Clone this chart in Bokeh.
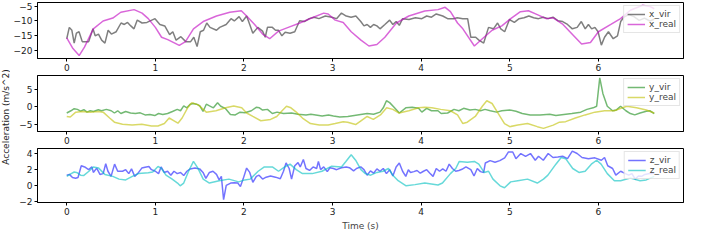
import math
from bokeh.plotting import figure
from bokeh.models import Range1d, FixedTicker, Label
from bokeh.layouts import row, column
from bokeh.embed import file_html
from bokeh.resources import INLINE

# ---------------- data ----------------
t_x_vir = [0.000, 0.029, 0.058, 0.084, 0.109, 0.139, 0.175, 0.248, 0.296, 0.321, 0.358, 0.394, 0.431, 0.467,
           0.504, 0.558, 0.613, 0.650, 0.686, 0.723, 0.759, 0.796, 0.850, 0.905, 0.960, 0.996, 1.051, 1.106,
           1.161, 1.197, 1.234, 1.288, 1.343, 1.398, 1.434, 1.471, 1.507, 1.544, 1.580, 1.617, 1.690, 1.726,
           1.799, 1.854, 1.891, 1.945, 1.982, 2.030, 2.065, 2.100, 2.156, 2.210, 2.240, 2.265, 2.320, 2.356,
           2.390, 2.428, 2.465, 2.520, 2.573, 2.628, 2.682, 2.737, 2.791, 2.846, 2.918, 2.991, 3.045, 3.100,
           3.154, 3.209, 3.263, 3.318, 3.354, 3.390, 3.427, 3.463, 3.500, 3.535, 3.590, 3.644, 3.680, 3.717,
           3.753, 3.790, 3.862, 3.935, 4.007, 4.062, 4.116, 4.170, 4.243, 4.298, 4.370, 4.406, 4.469, 4.524,
           4.560, 4.615, 4.651, 4.705, 4.760, 4.815, 4.862, 4.898, 4.942, 4.996, 5.051, 5.105, 5.160, 5.215,
           5.269, 5.324, 5.378, 5.433, 5.487, 5.542, 5.596, 5.651, 5.705, 5.760, 5.807, 5.851, 5.887, 5.924,
           5.960, 5.996, 6.033, 6.069, 6.113, 6.167, 6.215, 6.251, 6.287, 6.342, 6.400, 6.460, 6.520, 6.580,
           6.630]
x_vir = [-16.1, -12.2, -13.2, -17.6, -14.2, -13.7, -17.1, -17.1, -12.7, -15.1, -14.5, -16.6, -17.6, -13.2,
         -14.5, -13.7, -10.7, -11.2, -10.5, -11.7, -12.7, -9.7, -10.7, -10.5, -9.7, -9.2, -11.2, -11.7,
         -14.7, -13.7, -16.6, -15.4, -17.1, -17.1, -15.6, -18.8, -13.7, -13.2, -10.7, -12.2, -13.2, -12.2,
         -11.2, -9.2, -10.0, -8.5, -10.2, -8.3, -11.2, -14.2, -12.2, -13.5, -15.6, -12.2, -12.2, -13.2,
         -13.2, -15.1, -13.9, -14.2, -13.7, -9.9, -10.2, -9.2, -8.7, -9.2, -8.3, -8.7, -9.2, -7.3,
         -8.3, -8.7, -8.3, -10.2, -11.7, -11.2, -12.2, -11.2, -11.7, -12.7, -11.2, -9.7, -11.2, -10.2,
         -11.5, -9.2, -9.5, -8.9, -9.2, -8.3, -8.7, -7.6, -8.3, -9.2, -9.2, -8.9, -9.2, -9.2,
         -15.6, -15.6, -16.6, -17.6, -12.2, -12.7, -10.7, -12.7, -13.7, -9.5, -10.5, -9.2, -8.9, -8.3,
         -8.9, -9.2, -8.7, -9.2, -8.7, -9.9, -10.2, -11.2, -12.7, -12.2, -10.2, -12.7, -11.2, -12.7,
         -12.2, -13.7, -18.3, -15.6, -13.7, -16.1, -15.1, -10.2, -8.7, -7.8, -8.5, -9.8, -9.0, -10.0,
         -9.4]

t_x_real = [0.00, 0.07, 0.14, 0.20, 0.30, 0.41, 0.52, 0.61, 0.76, 0.85, 0.92, 1.00, 1.07, 1.14, 1.27, 1.34,
            1.43, 1.54, 1.69, 1.84, 1.97, 2.03, 2.12, 2.21, 2.29, 2.39, 2.50, 2.63, 2.77, 2.90, 2.95, 3.03,
            3.12, 3.21, 3.32, 3.41, 3.50, 3.59, 3.72, 3.86, 4.04, 4.19, 4.27, 4.33, 4.41, 4.47, 4.60, 4.69,
            4.80, 4.91, 5.01, 5.12, 5.21, 5.31, 5.41, 5.49, 5.60, 5.71, 5.81, 5.91, 6.00, 6.14, 6.25, 6.36,
            6.50, 6.58, 6.63]
x_real = [-15.8, -19.5, -21.9, -19.0, -12.7, -10.0, -9.0, -7.0, -6.1, -7.3, -9.2, -12.2, -15.6, -16.4, -18.4, -17.1,
          -12.7, -10.2, -8.3, -7.0, -6.5, -8.3, -11.2, -14.5, -16.1, -13.5, -12.2, -10.7, -8.9, -7.3, -7.6, -9.7,
          -10.5, -13.7, -16.6, -18.6, -18.1, -15.6, -10.7, -8.3, -6.6, -6.1, -5.3, -6.8, -10.7, -12.7, -18.6, -16.1,
          -13.2, -11.7, -9.2, -6.8, -6.5, -7.8, -9.2, -8.9, -11.2, -14.7, -17.9, -17.4, -13.7, -11.2, -9.2, -6.3,
          -4.6, -5.0, -5.8]

t_y_vir = [0.000, 0.047, 0.084, 0.120, 0.156, 0.193, 0.229, 0.265, 0.302, 0.356, 0.393, 0.447, 0.502, 0.538,
           0.575, 0.611, 0.665, 0.720, 0.775, 0.829, 0.884, 0.938, 0.993, 1.036, 1.084, 1.138, 1.193, 1.247,
           1.284, 1.320, 1.356, 1.393, 1.429, 1.465, 1.502, 1.538, 1.575, 1.611, 1.655, 1.702, 1.738, 1.793,
           1.847, 1.902, 1.956, 2.011, 2.083, 2.138, 2.174, 2.210, 2.265, 2.320, 2.374, 2.446, 2.537, 2.610,
           2.700, 2.755, 2.810, 2.882, 2.955, 3.009, 3.082, 3.172, 3.281, 3.390, 3.463, 3.535, 3.572, 3.608,
           3.644, 3.699, 3.753, 3.826, 3.898, 3.971, 4.007, 4.062, 4.116, 4.189, 4.225, 4.298, 4.370, 4.425,
           4.479, 4.550, 4.610, 4.670, 4.720, 4.780, 4.850, 4.910, 5.000, 5.070, 5.140, 5.230, 5.340, 5.450,
           5.520, 5.610, 5.700, 5.800, 5.870, 5.940, 5.980, 6.015, 6.050, 6.100, 6.160, 6.200, 6.250, 6.310,
           6.360, 6.410, 6.470, 6.540, 6.580, 6.630]
y_vir = [-1.75, -1.1, -0.5, -0.7, -1.2, -0.8, -1.5, -1.1, -1.3, -0.8, -1.1, -0.7, -1.1, -1.75,
         -1.1, -1.9, -1.3, -1.75, -1.9, -1.7, -2.3, -2.2, -2.5, -1.9, -2.2, -1.9, -1.3, -0.7,
         -1.1, 0.3, -0.25, 0.8, 1.0, 0.8, 0.3, -1.3, 0.8, 0.3, -0.25, 1.2, 0.2, -0.5,
         -2.2, -2.3, -1.5, -1.7, -1.1, -0.1, -0.25, -0.9, -0.7, -1.9, -1.5, -1.9, -1.75, -2.1,
         -2.3, -2.1, -2.3, -2.6, -2.3, -2.6, -2.9, -2.75, -2.3, -1.9, -2.1, -1.5, -0.25, 1.8,
         1.25, -0.25, -1.75, -0.25, -0.1, -0.4, -1.5, -0.4, -1.1, -1.1, -1.9, -1.75, -0.7, -1.1,
         -0.4, -0.9, -0.7, -1.1, -0.7, -1.1, -1.5, -1.1, -0.9, -1.25, -1.9, -2.3, -2.3, -2.1,
         -2.5, -2.2, -1.9, -1.5, -0.7, -0.25, 0.2, 8.4, 3.9, 0.2, -1.1, -0.9, 0.2, -1.1,
         -1.9, -2.3, -1.75, -1.25, -1.1, -1.9]

t_y_real = [0.000, 0.040, 0.102, 0.175, 0.265, 0.356, 0.411, 0.484, 0.538, 0.629, 0.738, 0.847, 0.956, 1.029,
            1.102, 1.156, 1.211, 1.255, 1.302, 1.364, 1.411, 1.484, 1.575, 1.684, 1.793, 1.884, 1.975, 2.030,
            2.100, 2.190, 2.300, 2.370, 2.430, 2.480, 2.530, 2.590, 2.660, 2.750, 2.850, 2.950, 3.030, 3.120,
            3.170, 3.260, 3.320, 3.390, 3.460, 3.540, 3.610, 3.680, 3.750, 3.860, 3.970, 4.040, 4.120, 4.220,
            4.330, 4.410, 4.470, 4.520, 4.610, 4.690, 4.740, 4.800, 4.870, 4.940, 5.000, 5.090, 5.200, 5.310,
            5.380, 5.490, 5.560, 5.630, 5.740, 5.850, 5.960, 6.070, 6.180, 6.270, 6.320, 6.430, 6.540, 6.630]
y_real = [-2.75, -2.9, -1.5, -1.3, -1.5, -1.3, -1.5, -3.2, -4.4, -5.0, -5.25, -5.0, -5.5, -5.5,
          -4.8, -3.2, -4.0, -4.7, -3.2, -0.25, 1.2, 0.6, -1.5, -1.1, -0.25, 0.3, -0.25, -1.75,
          -2.75, -4.0, -3.6, -2.75, -1.1, 0.2, -0.25, -1.5, -3.2, -4.8, -5.25, -5.25, -4.8, -4.25,
          -4.4, -5.1, -4.0, -2.75, -3.6, -2.3, -0.25, -0.7, -1.75, -1.1, -0.25, -0.1, -0.25, -0.7,
          -1.1, -2.3, -4.8, -4.4, -2.75, 0.2, 1.8, 1.0, -1.9, -4.8, -5.7, -5.25, -4.8, -5.7,
          -6.2, -5.25, -4.4, -4.25, -3.2, -2.3, -1.5, -1.1, -1.1, -0.25, 0.2, -0.25, -0.9, -1.75]

t_z_vir = [0.000, 0.030, 0.065, 0.100, 0.127, 0.164, 0.210, 0.247, 0.284, 0.300, 0.338, 0.375, 0.411, 0.440,
           0.465, 0.500, 0.540, 0.575, 0.630, 0.665, 0.700, 0.731, 0.767, 0.811, 0.847, 0.884, 0.927, 0.956,
           1.000, 1.036, 1.065, 1.100, 1.138, 1.175, 1.210, 1.247, 1.284, 1.320, 1.356, 1.393, 1.447, 1.500,
           1.538, 1.570, 1.610, 1.650, 1.690, 1.720, 1.745, 1.770, 1.800, 1.850, 1.890, 1.930, 1.960, 1.990,
           2.030, 2.065, 2.100, 2.140, 2.170, 2.210, 2.250, 2.300, 2.356, 2.410, 2.446, 2.475, 2.510, 2.537,
           2.573, 2.610, 2.635, 2.670, 2.700, 2.740, 2.780, 2.820, 2.840, 2.865, 2.900, 2.940, 2.970, 3.010,
           3.045, 3.100, 3.154, 3.190, 3.237, 3.270, 3.318, 3.354, 3.390, 3.427, 3.463, 3.500, 3.535, 3.572,
           3.608, 3.644, 3.680, 3.717, 3.753, 3.790, 3.826, 3.855, 3.880, 3.917, 3.953, 3.990, 4.026, 4.062,
           4.098, 4.134, 4.170, 4.207, 4.243, 4.280, 4.316, 4.352, 4.389, 4.425, 4.460, 4.505, 4.560, 4.596,
           4.633, 4.669, 4.705, 4.724, 4.778, 4.833, 4.887, 4.942, 4.985, 5.033, 5.069, 5.124, 5.178, 5.233,
           5.287, 5.324, 5.378, 5.433, 5.487, 5.542, 5.596, 5.651, 5.705, 5.760, 5.815, 5.887, 5.960, 6.033,
           6.069, 6.105, 6.160, 6.196, 6.251, 6.305, 6.342, 6.378, 6.415, 6.451, 6.487, 6.524, 6.578, 6.630]
z_vir = [1.3, 1.4, 1.0, 0.9, 1.0, 2.5, 2.3, 2.0, 2.35, 1.65, 2.2, 1.4, 1.5, 2.75,
         1.8, 1.15, 2.7, 1.8, 1.8, 2.0, 1.5, 2.1, 1.15, 1.65, 2.2, 2.3, 2.4, 2.0,
         1.8, 1.5, 2.35, 1.65, 1.8, 1.3, 1.8, 1.5, 1.65, 1.25, 1.8, 2.1, 2.2, 2.1,
         1.65, 0.9, 1.65, 1.8, 1.4, 0.7, 1.15, -1.8, 0.0, 0.3, 0.35, 0.3, -0.15, 0.8,
         2.2, 1.65, 0.4, 1.15, 1.3, 0.8, 1.05, 1.2, 1.05, 0.85, 1.8, 2.85, 2.15, 0.8,
         2.5, 2.9, 2.35, 3.3, 2.15, 1.9, 2.35, 2.15, 3.05, 2.0, 2.35, 1.75, 2.25, 2.15,
         2.0, 2.25, 2.35, 2.25, 1.85, 2.15, 2.35, 2.0, 1.3, 1.85, 1.55, 2.1, 1.8, 2.15,
         1.5, 2.0, 1.2, 2.35, 2.85, 1.8, 1.15, 2.0, 1.65, 1.75, 1.9, 1.55, 1.8, 2.0,
         1.55, 1.15, 2.15, 1.8, 2.1, 1.8, 2.7, 2.15, 1.8, 1.9, 2.05, 2.35, 2.0, 1.2,
         2.15, 1.75, 1.65, 2.85, 3.15, 2.95, 3.15, 3.5, 4.25, 4.25, 3.4, 4.05, 3.7, 4.05,
         3.2, 3.7, 3.2, 4.05, 3.55, 3.6, 3.7, 3.4, 4.35, 4.05, 3.55, 3.4, 3.5, 3.2,
         3.55, 2.5, 2.15, 1.3, 1.8, 1.5, 1.3, 1.5, 0.8, 1.2, 1.15, 1.4, 1.5, 1.5]

t_z_real = [0.000, 0.050, 0.084, 0.120, 0.156, 0.190, 0.250, 0.300, 0.360, 0.430, 0.520, 0.590, 0.665, 0.740,
            0.810, 0.920, 0.970, 1.030, 1.065, 1.120, 1.190, 1.250, 1.280, 1.320, 1.375, 1.430, 1.480, 1.540,
            1.610, 1.720, 1.830, 1.940, 2.010, 2.070, 2.160, 2.230, 2.320, 2.390, 2.460, 2.520, 2.590, 2.660,
            2.770, 2.880, 2.990, 3.100, 3.150, 3.210, 3.260, 3.320, 3.370, 3.430, 3.500, 3.570, 3.630, 3.680,
            3.740, 3.830, 3.930, 4.040, 4.190, 4.240, 4.330, 4.390, 4.430, 4.520, 4.600, 4.650, 4.710, 4.760,
            4.810, 4.890, 4.940, 5.010, 5.090, 5.200, 5.310, 5.380, 5.430, 5.520, 5.580, 5.630, 5.710, 5.780,
            5.850, 5.920, 5.980, 6.030, 6.100, 6.180, 6.250, 6.360, 6.470, 6.540, 6.630]
z_real = [1.15, 1.5, 1.7, 1.6, 1.3, 1.25, 1.8, 2.35, 2.2, 1.4, 1.15, 0.8, 0.7, 1.15,
          1.5, 1.6, 1.7, 2.4, 2.2, 1.3, 0.8, 0.3, -0.05, 0.3, 1.8, 3.05, 2.2, 0.8,
          0.3, 0.6, 0.8, 0.45, 0.7, 0.8, 1.8, 2.35, 2.35, 1.8, 2.35, 2.7, 2.0, 1.5,
          1.5, 1.8, 2.45, 2.35, 3.05, 3.9, 3.2, 2.0, 1.5, 1.3, 1.65, 1.8, 2.15, 1.3,
          0.6, -0.05, 0.1, 0.3, 0.05, 0.3, 1.5, 2.15, 3.05, 2.95, 3.05, 2.7, 1.65, 1.8,
          0.8, -0.05, -0.3, 0.45, 0.6, 0.8, 0.3, 0.8, 1.3, 2.7, 3.55, 3.4, 2.15, 1.65,
          1.8, 2.7, 3.2, 2.7, 1.5, 0.6, 0.6, 0.95, 0.6, 0.7, 1.15]

x_ticks = [0, 1, 2, 3, 4, 5, 6]
y_ticks_x = [-20, -15, -10, -5]
y_ticks_y = [-5, 0, 5]
y_ticks_z = [-2, 0, 2, 4]

FONT = "DejaVu Sans"
FIG_W = 676
STRIP_W = 10
TOTAL_H = 233


def minus_labels(ticks):
    return {t: (("\u2212" + str(abs(t))) if t < 0 else str(t)) for t in ticks}


def make_fig(height, yr, yticks, top, bottom, xlabel=None):
    p = figure(width=FIG_W, height=height, x_range=Range1d(-0.33, 6.96), y_range=Range1d(*yr),
               output_backend="svg", toolbar_location=None,
               min_border_left=22, min_border_right=3, min_border_top=top, min_border_bottom=bottom)
    p.xaxis.ticker = FixedTicker(ticks=x_ticks)
    p.yaxis.ticker = FixedTicker(ticks=yticks)
    p.yaxis.major_label_overrides = minus_labels(yticks)
    p.xgrid.visible = False
    p.ygrid.visible = False
    p.axis.minor_tick_line_color = None
    p.axis.major_tick_out = 3
    p.axis.major_tick_in = 0
    p.axis.major_label_standoff = 2
    p.axis.major_label_text_font_size = "9px"
    p.axis.major_label_text_font = FONT
    p.axis.major_label_text_color = "#222222"
    p.axis.axis_line_color = "black"
    p.axis.major_tick_line_color = "black"
    p.outline_line_color = "black"
    p.outline_line_alpha = 1.0
    if xlabel:
        p.xaxis.axis_label = xlabel
        p.xaxis.axis_label_text_font_size = "9px"
        p.xaxis.axis_label_text_font = FONT
        p.xaxis.axis_label_text_font_style = "normal"
        p.xaxis.axis_label_standoff = 3
    return p


def style_legend(p):
    lg = p.legend[0]
    lg.location = "top_right"
    lg.margin = 3
    lg.padding = 3
    lg.spacing = 0
    lg.label_text_font_size = "9px"
    lg.label_text_font = FONT
    lg.label_height = 9
    lg.glyph_height = 10
    lg.glyph_width = 18
    lg.label_standoff = 4
    lg.border_line_color = "#cccccc"
    lg.background_fill_alpha = 0.8


p1 = make_fig(74, (-22.9, -3.65), y_ticks_x, 2, 16)
p1.line(t_x_vir, x_vir, color="black", alpha=0.5, line_width=1.5, legend_label="x_vir")
p1.line(t_x_real, x_real, color="#bf00bf", alpha=0.6, line_width=1.5, legend_label="x_real")
style_legend(p1)

p2 = make_fig(73, (-7.1, 9.1), y_ticks_y, 1, 16)
p2.line(t_y_vir, y_vir, color="#008000", alpha=0.55, line_width=1.5, legend_label="y_vir")
p2.line(t_y_real, y_real, color="#bfbf00", alpha=0.6, line_width=1.5, legend_label="y_real")
style_legend(p2)

p3 = make_fig(86, (-2.17, 4.69), y_ticks_z, 1, 29, xlabel="Time (s)")
p3.line(t_z_vir, z_vir, color="#0000ff", alpha=0.55, line_width=1.5, legend_label="z_vir")
p3.line(t_z_real, z_real, color="#00bfbf", alpha=0.6, line_width=1.5, legend_label="z_real")
style_legend(p3)

strip = figure(width=STRIP_W, height=TOTAL_H, x_range=Range1d(0, 1), y_range=Range1d(0, 1),
               x_axis_type=None, y_axis_type=None, output_backend="svg", toolbar_location=None,
               min_border=0)
strip.outline_line_color = None
strip.xgrid.visible = False
strip.ygrid.visible = False
strip.add_layout(Label(x=0.5, y=0.5, text="Acceleration (m/s^2)", angle=math.pi / 2,
                       text_align="center", text_baseline="middle", text_font_size="9px",
                       text_font=FONT, text_color="#222222"))

layout = row(strip, column(p1, p2, p3))

open("out.html", "w").write(file_html(layout, INLINE))
